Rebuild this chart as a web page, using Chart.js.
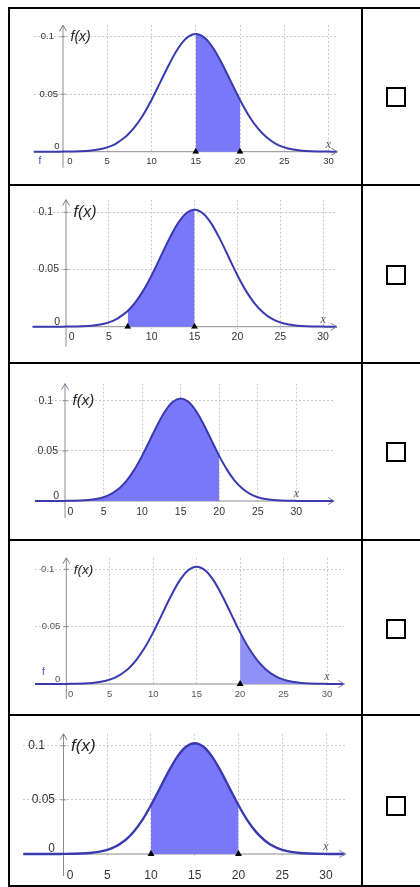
<!DOCTYPE html>
<html>
<head>
<meta charset="utf-8">
<script src="https://cdn.jsdelivr.net/npm/chart.js@4.4.1/dist/chart.umd.min.js"></script>
<style>
html, body { margin: 0; padding: 0; background: #fff; }
body { width: 420px; height: 887px; position: relative; overflow: hidden; }
.ln { position: absolute; background: #000; }
canvas { position: absolute; left: 10px; }
.box { position: absolute; left: 386px; width: 16px; height: 16px; border: 2px solid #000; }
</style>
</head>
<body>
<div class="ln" style="left:8px;top:7px;width:412px;height:2px"></div>
<div class="ln" style="left:8px;top:7px;width:2px;height:880px"></div>
<div class="ln" style="left:361px;top:7px;width:2px;height:880px"></div>
<div class="ln" style="left:8px;top:184px;width:412px;height:2px"></div>
<div class="ln" style="left:8px;top:362px;width:412px;height:2px"></div>
<div class="ln" style="left:8px;top:539px;width:412px;height:2px"></div>
<div class="ln" style="left:8px;top:714px;width:412px;height:2px"></div>
<div class="ln" style="left:8px;top:885px;width:412px;height:2px"></div>

<canvas id="c0" width="351" height="175" style="top:9px"></canvas>
<canvas id="c1" width="351" height="176" style="top:186px"></canvas>
<canvas id="c2" width="351" height="175" style="top:364px"></canvas>
<canvas id="c3" width="351" height="173" style="top:541px"></canvas>
<canvas id="c4" width="351" height="169" style="top:716px"></canvas>

<div class="box" style="top:87px"></div>
<div class="box" style="top:265px"></div>
<div class="box" style="top:442px"></div>
<div class="box" style="top:619px"></div>
<div class="box" style="top:796px"></div>

<script>
// density curve (same curve in every row)
const curveX = [-5, -4, -3, -2, -1, 0, 1, 2, 3, 4, 5, 6, 7, 7.2, 8, 9, 10, 11, 12, 13, 14, 15,
  16, 17, 18, 19, 20, 21, 22, 23, 24, 25, 26, 27, 28, 29, 30, 31, 32, 33, 34, 35];
const curveY = [0, 0, 0, 0, 0, 0.0001, 0.0002, 0.0004, 0.0009, 0.0019, 0.0038, 0.0071, 0.0125, 0.0138,
  0.0204, 0.0313, 0.0450, 0.0605, 0.0761, 0.0897, 0.0990, 0.1023,
  0.0990, 0.0897, 0.0761, 0.0605, 0.0450, 0.0313, 0.0204, 0.0125, 0.0071, 0.0038, 0.0019,
  0.0009, 0.0004, 0.0002, 0.0001, 0, 0, 0, 0, 0];

const xTicks = [0, 5, 10, 15, 20, 25, 30];
const yTicks = [0, 0.05, 0.1];
const yTickLabels = ['0', '0.05', '0.1'];

// shaded interval per row, and the marked bounds on the x axis
const shadeFrom = [15, 7.2, -5, 20, 10];
const shadeTo = [20, 15, 20, 35, 20];
const boundMarks = [[15, 20], [7.2, 15], [], [20], [10, 20]];

// page geometry of each plot (pixels)
const panels = [
  { top: 9, h: 175, x0: 63, kx: 8.85, y0: 151.7, ky: 1150, xMin: -3.3, xMax: 31, yMax: 0.110,
    tail: 16, font: 9.5, lab: 9.3, zero: 7, yOff: [-3.5, -5, -9], fx: 14, fill: '#7878f8', txt: '#333',
    fLab: [-23, 9.5] },
  { top: 186, h: 176, x0: 66, kx: 8.57, y0: 326.7, ky: 1144, xMin: -3.9, xMax: 31.6, yMax: 0.111,
    tail: 20, font: 10.5, lab: 10.7, zero: 5.7, yOff: [-6, -7, -13], fx: 16, fill: '#7878f8', txt: '#333' },
  { top: 364, h: 175, x0: 65, kx: 7.71, y0: 501, ky: 1003, xMin: -3.9, xMax: 34.9, yMax: 0.117,
    tail: 17, font: 10.5, lab: 10.7, zero: 5.5, yOff: [-6, -7, -12], fx: 15, fill: '#7878f8', txt: '#333' },
  { top: 541, h: 173, x0: 66.3, kx: 8.69, y0: 684, ky: 1147, xMin: -3.6, xMax: 32, yMax: 0.110,
    tail: 15, font: 9.5, lab: 10, zero: 4.4, yOff: [-6, -6, -12], fx: 13.5, fill: '#9090f6', txt: '#555',
    fLab: [-23, -12] },
  { top: 716, h: 169, x0: 63.5, kx: 8.75, y0: 854, ky: 1083, xMin: -4.6, xMax: 32.2, yMax: 0.111,
    tail: 22, font: 12, lab: 21.7, zero: 6.5, yOff: [-8.5, -8.5, -18.5], fx: 17, fill: '#7878f8', txt: '#333' }
];

function axesPlugin(p) {
  return {
    id: 'geoAxes',
    beforeDatasetsDraw(chart) {
      const { ctx, chartArea: a, scales: { x, y } } = chart;
      const px = x.getPixelForValue(0), py = y.getPixelForValue(0);
      ctx.save();
      ctx.strokeStyle = '#8c8c8c';
      ctx.lineWidth = 1;
      ctx.beginPath();
      ctx.moveTo(a.left, py); ctx.lineTo(a.right, py);
      ctx.moveTo(px, a.top); ctx.lineTo(px, py + p.tail);
      yTicks.forEach(v => {
        if (v === 0) return;
        const t = y.getPixelForValue(v);
        ctx.moveTo(px - 2.5, t); ctx.lineTo(px + 2.5, t);
      });
      ctx.stroke();
      ctx.restore();
    },
    afterDraw(chart) {
      const { ctx, chartArea: a, scales: { x, y } } = chart;
      const px = x.getPixelForValue(0), py = y.getPixelForValue(0);
      ctx.save();
      // arrow heads
      ctx.strokeStyle = '#7a7a9a';
      ctx.lineWidth = 1;
      ctx.beginPath();
      ctx.moveTo(px - 3.5, a.top + 6); ctx.lineTo(px, a.top); ctx.lineTo(px + 3.5, a.top + 6);
      ctx.moveTo(a.right - 6, py - 3.5); ctx.lineTo(a.right, py); ctx.lineTo(a.right - 6, py + 3.5);
      ctx.stroke();

      // tick labels
      ctx.fillStyle = p.txt;
      ctx.font = p.font + 'px "Liberation Sans", Arial, sans-serif';
      ctx.textBaseline = 'middle';
      ctx.textAlign = 'center';
      xTicks.forEach(v => {
        ctx.fillText(String(v), x.getPixelForValue(v) + (v === 0 ? p.zero : 0), py + p.lab);
      });
      ctx.textAlign = 'right';
      yTicks.forEach((v, i) => {
        const ty = v === 0 ? py - 5 : y.getPixelForValue(v);
        ctx.fillText(yTickLabels[i], px + p.yOff[i], ty);
      });

      // axis names
      ctx.fillStyle = '#222';
      ctx.textAlign = 'left';
      ctx.font = 'italic ' + p.fx + 'px "Liberation Sans", Arial, sans-serif';
      ctx.fillText('f(x)', px + 7.5, y.getPixelForValue(0.1) + 0.5);
      ctx.fillStyle = '#555';
      ctx.textAlign = 'center';
      ctx.font = 'italic 12px "Liberation Serif", serif';
      ctx.fillText('x', x.getPixelForValue(30), py - 7);
      if (p.fLab) {
        ctx.fillStyle = '#4848c0';
        ctx.font = '10px "Liberation Sans", Arial, sans-serif';
        ctx.fillText('f', px + p.fLab[0], py + p.fLab[1]);
      }
      ctx.restore();
    }
  };
}

panels.forEach((p, k) => {
  const curve = curveX.map((v, i) => ({ x: v, y: curveY[i] }));
  const shade = curve.filter(pt => pt.x >= shadeFrom[k] && pt.x <= shadeTo[k]);
  const marks = boundMarks[k].map(v => ({ x: v, y: 0 }));
  const yMin = -2 / p.ky;
  const pad = {
    left: p.x0 + p.xMin * p.kx - 10,
    right: 361 - (p.x0 + p.xMax * p.kx),
    top: (p.y0 - p.yMax * p.ky) - p.top,
    bottom: (p.top + p.h) - (p.y0 - yMin * p.ky)
  };

  new Chart(document.getElementById('c' + k), {
    type: 'line',
    data: {
      datasets: [
        { data: marks, showLine: false, pointStyle: 'triangle', pointRadius: 4,
          pointBackgroundColor: '#000', pointBorderWidth: 0, order: 0 },
        { data: curve, borderColor: '#3a3ab0', borderWidth: k === 4 ? 2.4 : 2, pointRadius: 0,
          cubicInterpolationMode: 'monotone', fill: false, order: 1 },
        { data: shade, borderColor: 'transparent', borderWidth: 0, pointRadius: 0,
          cubicInterpolationMode: 'monotone', fill: 'origin', backgroundColor: p.fill, order: 2 }
      ]
    },
    options: {
      responsive: false,
      animation: false,
      events: [],
      layout: { padding: pad },
      plugins: { legend: { display: false }, tooltip: { enabled: false } },
      scales: {
        x: {
          type: 'linear', min: p.xMin, max: p.xMax,
          afterBuildTicks: s => { s.ticks = xTicks.filter(v => v !== 0).map(v => ({ value: v })); },
          ticks: { display: false },
          grid: { color: '#c8c8c8', drawTicks: false, lineWidth: 1 },
          border: { display: false, dash: [2, 2] }
        },
        y: {
          type: 'linear', min: yMin, max: p.yMax,
          afterBuildTicks: s => { s.ticks = yTicks.filter(v => v !== 0).map(v => ({ value: v })); },
          ticks: { display: false },
          grid: { color: '#c8c8c8', drawTicks: false, lineWidth: 1 },
          border: { display: false, dash: [2, 2] }
        }
      }
    },
    plugins: [axesPlugin(p)]
  });
});
</script>
</body>
</html>
